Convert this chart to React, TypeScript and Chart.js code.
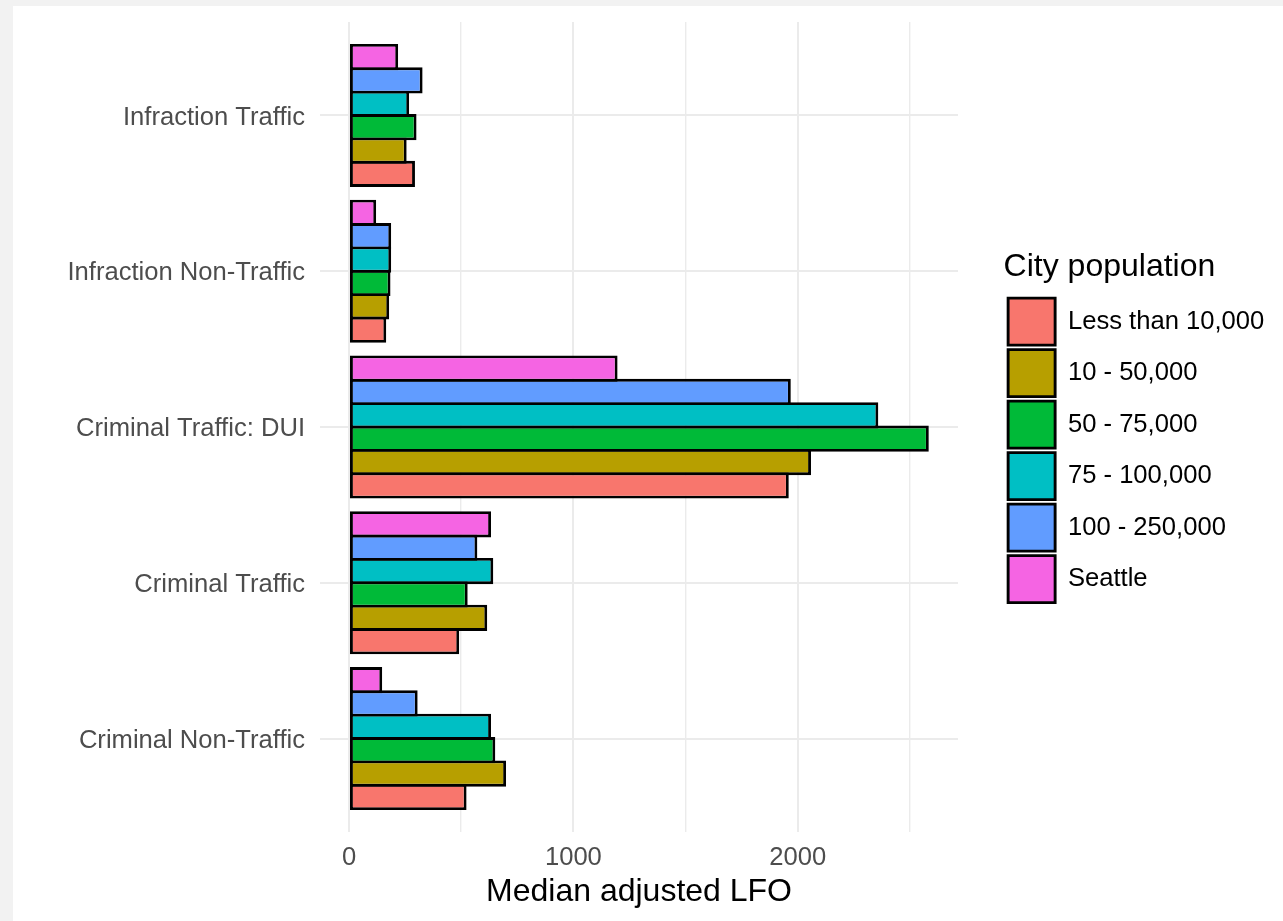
import React, { useEffect, useRef } from "react";
import { Chart, registerables } from "chart.js";

Chart.register(...registerables);

// Categories, listed top to bottom as they appear in the chart
const CATEGORIES = [
  "Infraction Traffic",
  "Infraction Non-Traffic",
  "Criminal Traffic: DUI",
  "Criminal Traffic",
  "Criminal Non-Traffic",
];

const SERIES_NAMES = [
  "Less than 10,000",
  "10 - 50,000",
  "50 - 75,000",
  "75 - 100,000",
  "100 - 250,000",
  "Seattle",
];

const COLORS = ["#F8766D", "#B79F00", "#00BA38", "#00BFC4", "#619CFF", "#F564E3"];

// Median adjusted LFO, aligned with CATEGORIES
const LESS_THAN_10K = [294, 166, 1960, 491, 524];
const POP_10_50K = [257, 179, 2059, 616, 700];
const POP_50_75K = [301, 185, 2584, 529, 652];
const POP_75_100K = [268, 188, 2359, 643, 633];
const POP_100_250K = [328, 188, 1969, 572, 306];
const SEATTLE = [219, 121, 1197, 633, 148];

const X_GRID_VALUES = [0, 500, 1000, 1500, 2000, 2500];
const X_TICK_LABELS = [0, 1000, 2000];
const X_MIN = -129.25;
const X_MAX = 2714.25;

const X_AXIS_TITLE = "Median adjusted LFO";
const LEGEND_TITLE = "City population";

const FONT = "'Liberation Sans', Arial, Helvetica, sans-serif";

const noPad = (s: any) => {
  s.paddingTop = 0;
  s.paddingBottom = 0;
  s.paddingLeft = 0;
  s.paddingRight = 0;
};

export default function App() {
  const canvasRef = useRef<HTMLCanvasElement | null>(null);

  useEffect(() => {
    const canvas = canvasRef.current;
    if (!canvas) return;
    Chart.defaults.font.family = FONT;

    const series = [LESS_THAN_10K, POP_10_50K, POP_50_75K, POP_75_100K, POP_100_250K, SEATTLE];
    const n = CATEGORIES.length;
    const datasets = series
      .map((vals, s) => ({
        label: SERIES_NAMES[s],
        data: vals.map((v, i) => ({ x: v, y: n - 1 - i })),
        backgroundColor: COLORS[s],
        borderColor: "#000000",
        borderWidth: 2.9,
        borderSkipped: false as any,
        categoryPercentage: 0.9,
        barPercentage: 1.124,
        xAxisID: "x",
        yAxisID: "y",
      }))
      .reverse();

    const chart = new Chart(canvas, {
      type: "bar",
      data: { datasets: datasets as any },
      options: {
        indexAxis: "y",
        animation: false,
        responsive: false,
        layout: { padding: { top: 16, right: 8.7, bottom: 0, left: 0 } },
        scales: {
          x: {
            type: "linear",
            position: "bottom",
            offset: false,
            min: X_MIN,
            max: X_MAX,
            afterBuildTicks: (s: any) => {
              s.ticks = X_GRID_VALUES.map((v) => ({ value: v }));
            },
            ticks: {
              autoSkip: false,
              maxRotation: 0,
              padding: 10.8,
              color: "#4d4d4d",
              font: { size: 25.6 },
              callback: (v: any) => (X_TICK_LABELS.includes(Number(v)) ? String(v) : ""),
            },
            grid: {
              offset: false,
              color: "#ebebeb",
              lineWidth: (ctx: any) =>
                ctx.tick && X_TICK_LABELS.includes(ctx.tick.value) ? 2 : 1.4,
              drawTicks: false,
            },
            border: { display: false },
            title: {
              display: true,
              text: X_AXIS_TITLE,
              color: "#000000",
              font: { size: 32 },
              padding: { top: 0, bottom: 9.5 },
            },
            afterFit: (s: any) => {
              s.height = 89;
              noPad(s);
            },
          },
          y: {
            type: "linear",
            position: "left",
            offset: false,
            min: -0.6,
            max: n - 1 + 0.6,
            afterBuildTicks: (s: any) => {
              s.ticks = CATEGORIES.map((_, i) => ({ value: i }));
            },
            ticks: {
              padding: 15,
              labelOffset: 2,
              color: "#4d4d4d",
              font: { size: 25.6 },
              callback: (v: any) => CATEGORIES[n - 1 - Number(v)],
            },
            grid: { offset: false, color: "#ebebeb", lineWidth: 2, drawTicks: false },
            border: { display: false },
            afterFit: (s: any) => {
              s.width = 307;
              noPad(s);
            },
          },
          gap: {
            type: "linear",
            position: "right",
            display: true,
            grid: { display: false },
            ticks: { display: false },
            border: { display: false },
            afterFit: (s: any) => {
              s.width = 45.6;
              noPad(s);
            },
          },
        },
        plugins: {
          tooltip: { enabled: false },
          legend: {
            display: true,
            position: "right",
            align: "center",
            fullSize: false,
            reverse: true,
            maxWidth: 400,
            title: {
              display: true,
              text: LEGEND_TITLE,
              color: "#000000",
              font: { size: 32 },
              position: "start",
              padding: { top: 4.6, bottom: 3.7 },
            } as any,
            labels: {
              boxWidth: 47,
              boxHeight: 47,
              padding: 4.5,
              color: "#000000",
              font: { size: 25.6 },
            },
          },
        },
      } as any,
    });

    return () => chart.destroy();
  }, []);

  return (
    <div
      style={{
        position: "fixed",
        left: 0,
        top: 0,
        width: 1283,
        height: 921,
        background: "#f2f2f2",
        overflow: "hidden",
      }}
    >
      <canvas
        ref={canvasRef}
        width={1270}
        height={915}
        style={{ position: "absolute", left: 13, top: 6, width: 1270, height: 915, background: "#ffffff" }}
      />
    </div>
  );
}
